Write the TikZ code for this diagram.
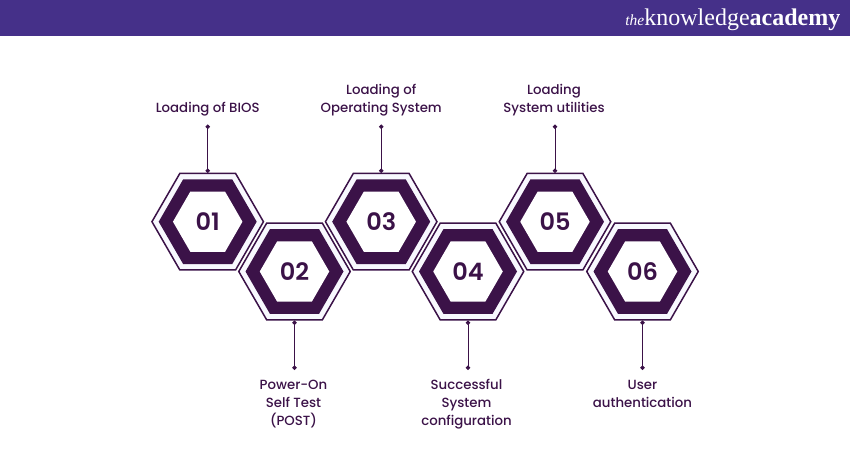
\documentclass[tikz,border=0pt]{standalone}
\usepackage{fontspec}
\setmainfont{Poppins Medium}
\newfontfamily\numfont{Poppins SemiBold}
\newfontfamily\logofont{Liberation Serif}
\usetikzlibrary{shapes.geometric}
\usetikzlibrary{arrows.meta}
\definecolor{plum}{HTML}{3B1248}
\definecolor{band}{HTML}{453089}
\definecolor{pale}{HTML}{F8F8FE}
\tikzset{
	hexa/.style={regular polygon, regular polygon sides=6, inner sep=0pt, outer sep=0pt},
	hexout/.style={hexa, draw=plum, line width=1.5pt, fill=pale, minimum size=111.5pt},
	hexring/.style={hexa, fill=plum, minimum size=98pt},
	hexin/.style={hexa, fill=white, text=plum, font=\numfont\fontsize{24}{24}\selectfont, minimum size=69.5pt},
	lab/.style={text=plum, align=center, inner sep=0pt, font=\fontsize{13.3}{18}\selectfont},
	link/.style={draw=plum, line width=0.9pt, {Circle[length=4.4pt]}-{Circle[length=4.4pt]}},
}

\begin{document}
\begin{tikzpicture}[x=1pt, y=-1pt]
	\useasboundingbox (0,0) rectangle (850,450);
	\fill[band] (0,0) rectangle (850,36);
	\node[text=white, inner sep=0pt, anchor=east] (logo) at (840.5,20) {\logofont\fontsize{15.5}{18}\selectfont{\itshape the}\fontsize{24}{24}\selectfont knowledge\textbf{academy}};
	
	\node[hexout] (h1) at (207.7, 221.7) {};
	\node[hexout] (h2) at (294.5, 271.5) {};
	\node[hexout] (h3) at (381.2, 221.7) {};
	\node[hexout] (h4) at (468, 271.5) {};
	\node[hexout] (h5) at (555, 221.7) {};
	\node[hexout] (h6) at (642.5, 271.5) {};
	\node[hexring] (r1) at (h1) {};
	\node[hexring] (r2) at (h2) {};
	\node[hexring] (r3) at (h3) {};
	\node[hexring] (r4) at (h4) {};
	\node[hexring] (r5) at (h5) {};
	\node[hexring] (r6) at (h6) {};
	\node[hexin] (n1) at (h1) {01};
	\node[hexin] (n2) at (h2) {02};
	\node[hexin] (n3) at (h3) {03};
	\node[hexin] (n4) at (h4) {04};
	\node[hexin] (n5) at (h5) {05};
	\node[hexin] (n6) at (h6) {06};
	
	\node[lab] (t1) at (207.7, 109.5) {Loading of BIOS};
	\node[lab] (t2) at (293.5, 404.5) {Power-On\\Self Test\\(POST)};
	\node[lab] (t3) at (381.2, 100.5) {Loading of\\Operating System};
	\node[lab] (t4) at (466.5, 404.5) {Successful\\System\\configuration};
	\node[lab] (t5) at (554, 100.5) {Loading\\System utilities};
	\node[lab] (t6) at (642.5, 393.5) {User\\authentication};
	
	\draw[link, shorten >=0.5pt, shorten <=15pt] (h1 |- t1) -- (h1);
	\draw[link, shorten >=0.5pt, shorten <=24pt] (h3 |- t3) -- (h3);
	\draw[link, shorten >=0.5pt, shorten <=24pt] (h5 |- t5) -- (h5);
	\draw[link, shorten <=0.7pt, shorten >=34.6pt] (h2) -- (h2 |- t2);
	\draw[link, shorten <=0.7pt, shorten >=34.6pt] (h4) -- (h4 |- t4);
	\draw[link, shorten <=0.7pt, shorten >=23.6pt] (h6) -- (h6 |- t6);
\end{tikzpicture}
\end{document}
